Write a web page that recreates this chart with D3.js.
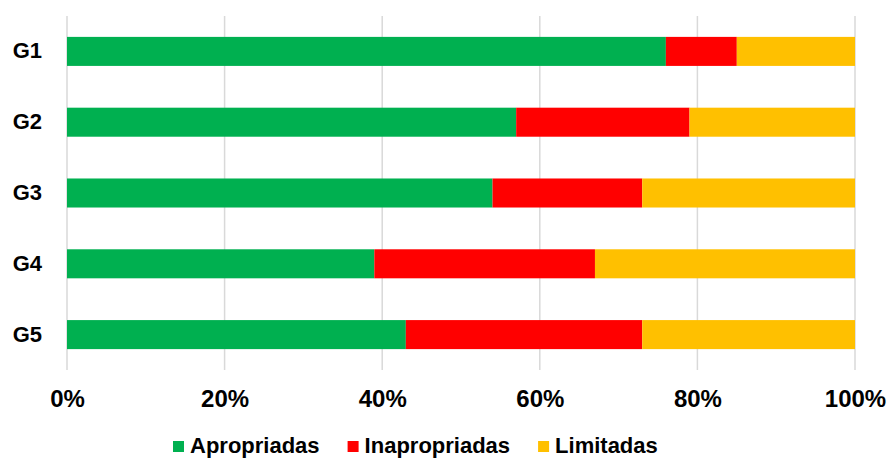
<!DOCTYPE html>
<html>
<head>
<meta charset="utf-8">
<script src="https://cdn.jsdelivr.net/npm/d3@7"></script>
<style>
  html, body { margin: 0; padding: 0; background: #fff; }
  svg { display: block; font-family: "Liberation Sans", Arial, sans-serif; }
</style>
</head>
<body>
<svg id="chart" width="890" height="458"></svg>
<script>
const categories = ["G1", "G2", "G3", "G4", "G5"];
const seriesNames = ["Apropriadas", "Inapropriadas", "Limitadas"];
const apropriadas = [76, 57, 54, 39, 43];
const inapropriadas = [9, 22, 19, 28, 30];
const limitadas = [15, 21, 27, 33, 27];
const tickValues = [0, 20, 40, 60, 80, 100];
const colors = ["#00B050", "#FF0000", "#FFC000"];

(function () {
const svg = d3.select("#chart");
const mLeft = 67, mRight = 855, mTop = 16, mBottom = 370;

const x = d3.scaleLinear().domain([0, 100]).range([mLeft, mRight]);
const y = d3.scaleBand().domain(categories).range([mTop, mBottom])
  .paddingInner(0.59).paddingOuter(0.295);

// gridlines
svg.append("g").selectAll("line").data(tickValues).join("line")
  .attr("x1", d => x(d)).attr("x2", d => x(d))
  .attr("y1", mTop).attr("y2", mBottom)
  .attr("stroke", "#d9d9d9").attr("stroke-width", 1.5);

const rows = categories.map((c, i) => ({ cat: c, Apropriadas: apropriadas[i], Inapropriadas: inapropriadas[i], Limitadas: limitadas[i] }));
const stacked = d3.stack().keys(seriesNames)(rows);

svg.append("g").selectAll("g").data(stacked).join("g")
  .attr("fill", (d, i) => colors[i])
  .selectAll("rect").data(d => d).join("rect")
  .attr("x", d => x(d[0]))
  .attr("width", d => x(d[1]) - x(d[0]))
  .attr("y", d => y(d.data.cat))
  .attr("height", y.bandwidth());

// x axis labels
const xAxis = d3.axisBottom(x).tickValues(tickValues).tickFormat(d => d + "%").tickSize(0).tickPadding(0);
const gx = svg.append("g").attr("transform", `translate(0, 390)`).call(xAxis);
gx.select(".domain").remove();
gx.selectAll("text").attr("font-size", 24).attr("font-weight", "bold").attr("fill", "#000")
  .attr("font-family", "'Liberation Sans', Arial, sans-serif").attr("dy", "0.72em");

// y axis labels
const yAxis = d3.axisLeft(y).tickSize(0).tickPadding(25);
const gy = svg.append("g").attr("transform", `translate(${mLeft}, 0)`).call(yAxis);
gy.select(".domain").remove();
gy.selectAll("text").attr("font-size", 22).attr("font-weight", "bold").attr("fill", "#000")
  .attr("font-family", "'Liberation Sans', Arial, sans-serif");

// legend
const legend = svg.append("g");
let lx = 173;
seriesNames.forEach((name, i) => {
  legend.append("rect").attr("x", lx).attr("y", 441).attr("width", 11).attr("height", 11).attr("fill", colors[i]);
  const t = legend.append("text").attr("x", lx + 17).attr("y", 453)
    .attr("font-size", 22).attr("font-weight", "bold").attr("fill", "#000").text(name);
  lx += 17 + t.node().getComputedTextLength() + 28;
});
})();
</script>
</body>
</html>
